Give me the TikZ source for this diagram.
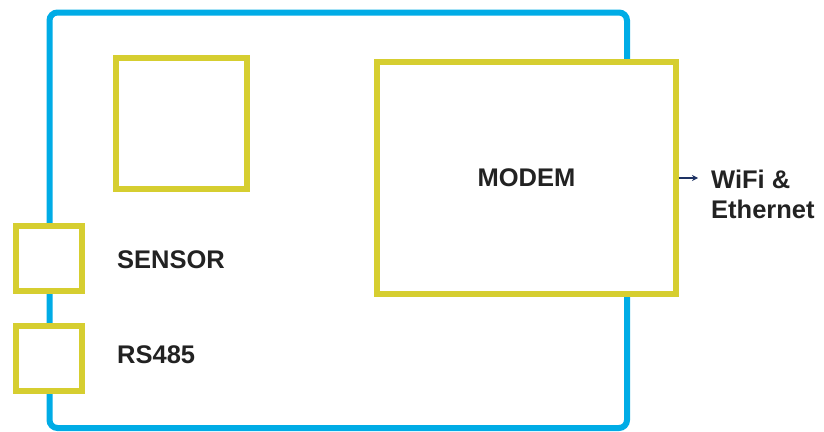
\documentclass[tikz,border=0pt]{standalone}
\usepackage{fontspec}
\setmainfont{Liberation Sans}
\usetikzlibrary{arrows.meta, positioning}
\definecolor{azul}{RGB}{0, 172, 230}
\definecolor{amarelo}{RGB}{214, 206, 48}
\definecolor{texto}{RGB}{34, 34, 34}
\definecolor{marinho}{RGB}{30, 50, 100}
\tikzset{
  placa/.style={
    draw=azul, line width=6pt, rounded corners=8pt, inner sep=0pt
  },
  bloco/.style={
    draw=amarelo, line width=5.5pt, fill=white, inner sep=0pt
  },
  rotulo/.style={
    font=\fontsize{25.5}{30}\selectfont\bfseries, text=texto, inner sep=0pt
  },
  seta/.style={-{Stealth[length=6pt, width=6pt]}, line width=1.5pt, marinho},
}

\begin{document}
\begin{tikzpicture}[x=1pt, y=-1pt]

\useasboundingbox (0,0) rectangle (824,431);

% =================================================
% PLACA
% =================================================

\node[placa, minimum width=577.5pt, minimum height=415.5pt] (placa) at (338.25,220.25) {};

% =================================================
% BLOCOS
% =================================================

\node[bloco, minimum width=131pt, minimum height=131pt] (chip) at (181.5,123.5) {};

\node[bloco, minimum width=299pt, minimum height=232pt] (modem) at (526.5,178)
{};

\node[bloco, minimum width=66pt, minimum height=65pt] (sensor) at (49,258.5) {};

\node[bloco, minimum width=66pt, minimum height=65pt] (rs485) at (49,358.5) {};

% =================================================
% TEXTOS
% =================================================

\node[rotulo] (tmodem) at (modem.center) {MODEM};

\node[rotulo, anchor=west] (tsensor) at (117,260) {SENSOR};

\node[rotulo, anchor=west] (trs485) at (117,355) {RS485};

\node[rotulo, anchor=west, align=left] (rede) at (711,194)
{WiFi \&\\Ethernet};

\coordinate (ponta) at (698,178);
\draw[seta] (modem.east) -- (ponta);
\end{tikzpicture}
\end{document}
